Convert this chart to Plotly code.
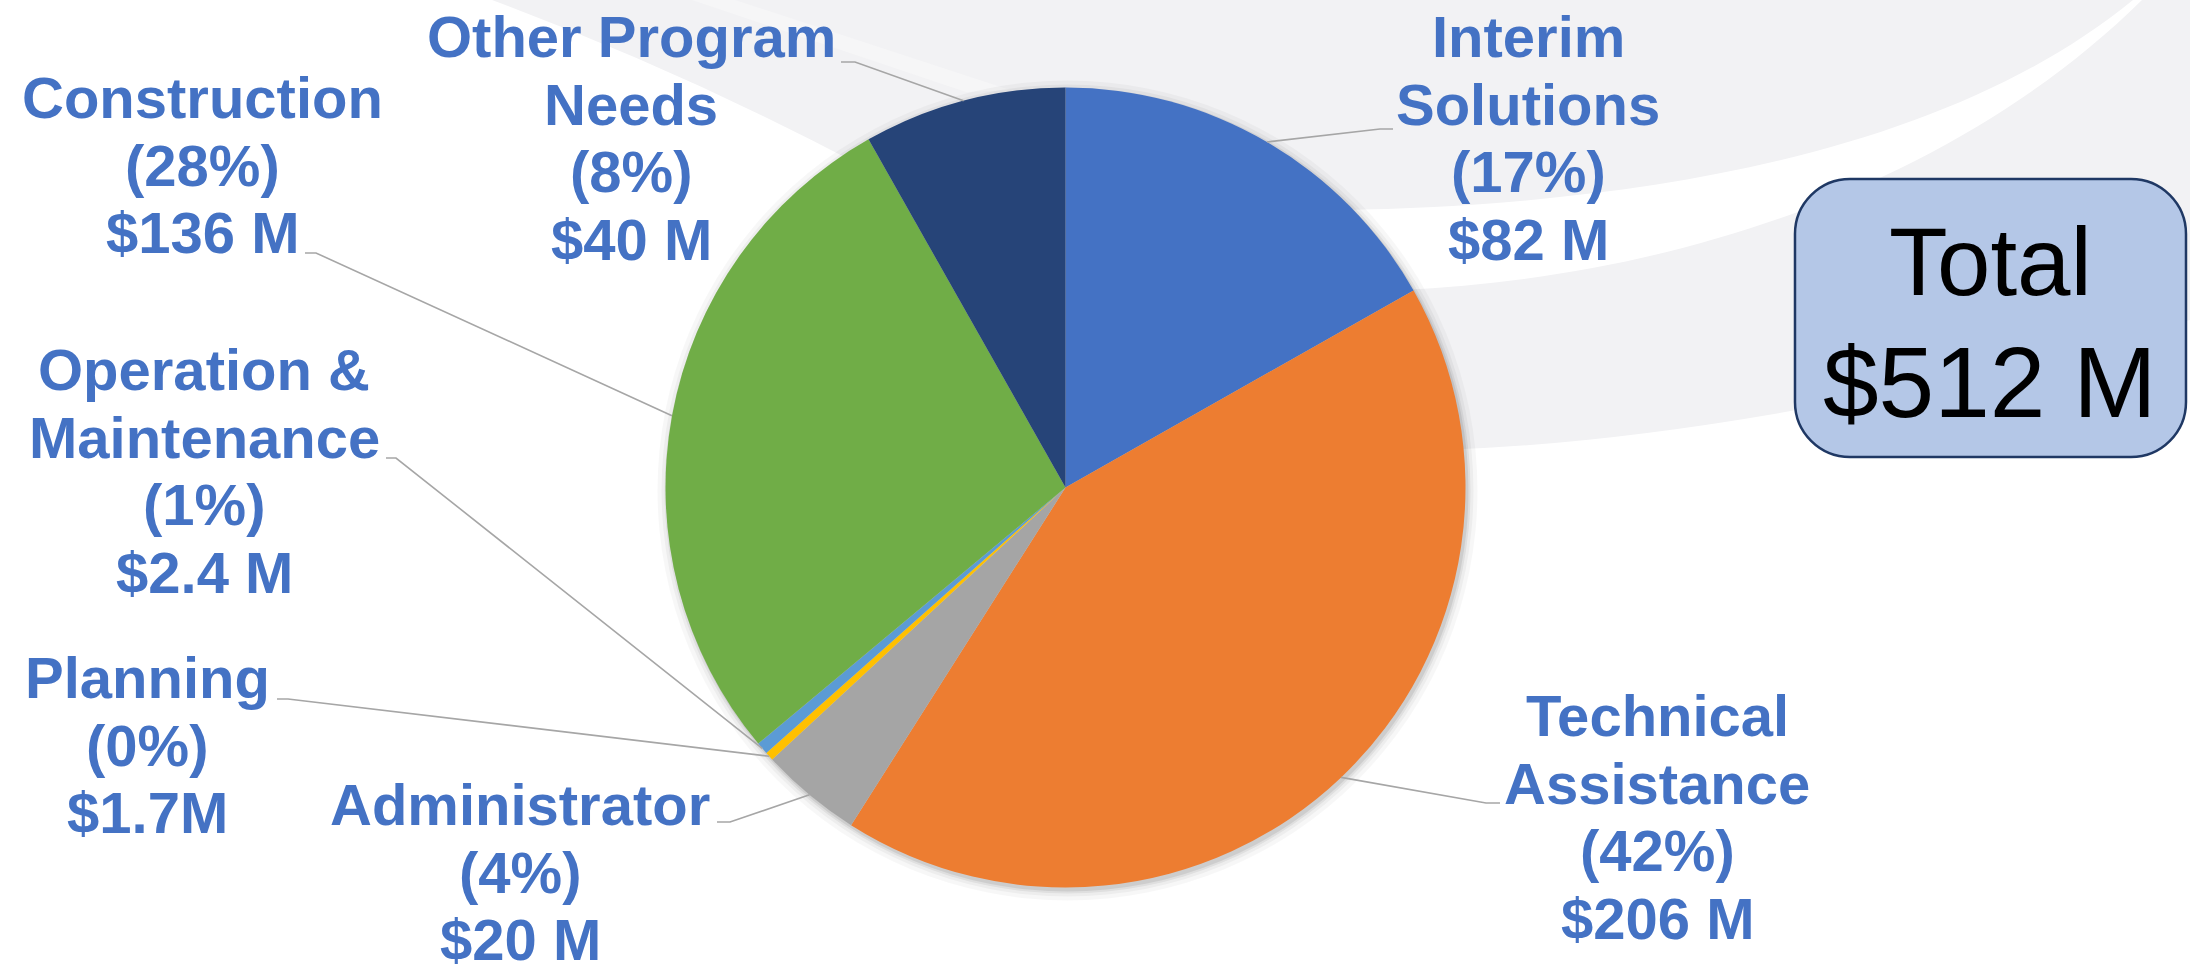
import math
import plotly.graph_objects as go

# ---------------- data ----------------
categories = ["Interim Solutions", "Technical Assistance", "Administrator", "Planning",
              "Operation & Maintenance", "Construction", "Other Program Needs"]
values_musd = [82, 206, 20, 1.7, 2.4, 136, 40]
pct_labels = ["(17%)", "(42%)", "(4%)", "(0%)", "(1%)", "(28%)", "(8%)"]
amount_labels = ["$82 M", "$206 M", "$20 M", "$1.7M", "$2.4 M", "$136 M", "$40 M"]
name_lines = [["Interim", "Solutions"], ["Technical", "Assistance"], ["Administrator"],
              ["Planning"], ["Operation &", "Maintenance"], ["Construction"],
              ["Other Program", "Needs"]]
slice_colors = ["#4472C4", "#ED7D31", "#A5A5A5", "#FFC000", "#5B9BD5", "#70AD47", "#264478"]
total_lines = ["Total", "$512 M"]

# ---------------- layout constants (pixels) ----------------
W, H = 2190, 973
CX, CY, R = 1065.5, 487.5, 400.0
FONT = "Liberation Sans, Arial, sans-serif"
LABEL_COLOR = "#4472C4"
LABEL_SIZE = 58
PITCH = 67.5

# label placement: center x, first baseline, elbow point, tail end
label_pos = [
    dict(cx=1528, b=57, elbow=(1380, 129), tail=(1393, 129)),
    dict(cx=1657, b=736, elbow=(1486, 803), tail=(1500, 803)),
    dict(cx=520, b=825, elbow=(730, 822), tail=(717, 822)),
    dict(cx=147, b=698, elbow=(288, 699), tail=(277, 699)),
    dict(cx=204, b=390, elbow=(396, 458), tail=(386, 458)),
    dict(cx=202, b=118, elbow=(316, 253), tail=(305, 253)),
    dict(cx=631, b=57, elbow=(855, 62), tail=(841, 62)),
]


def px(x):
    return x / W


def py(y):
    return 1 - y / H


def P(x, y):
    return f"{px(x):.5f},{py(y):.5f}"


shapes = []

# background swoosh
shapes.append(dict(type="path", layer="below", xref="paper", yref="paper",
                   path=f"M {P(492,0)} Q {P(680,70)} {P(860,165)} L {P(1066,487)} L {P(1440,450)} "
                        f"Q {P(1750,440)} {P(2190,320)} L {P(2190,0)} Z",
                   fillcolor="#F2F2F4", line=dict(width=0)))
shapes.append(dict(type="path", layer="below", xref="paper", yref="paper",
                   path=f"M {P(692,0)} L {P(735,0)} L {P(1010,90)} L {P(966,92)} Z",
                   fillcolor="#F6F6F7", line=dict(width=0)))
shapes.append(dict(type="path", layer="below", xref="paper", yref="paper",
                   path=f"M {P(1340,210)} C {P(1650,205)} {P(1950,150)} {P(2133,0)} L {P(2142,0)} "
                        f"C {P(1980,160)} {P(1720,275)} {P(1400,290)} Z",
                   fillcolor="#FFFFFF", line=dict(width=0)))

# soft shadow around the pie
for rr, op in [(410, 0.03), (406, 0.04), (403, 0.06), (401, 0.08)]:
    sx, sy = CX + 2, CY + 3
    shapes.append(dict(type="circle", layer="below", xref="paper", yref="paper",
                       x0=px(sx - rr), x1=px(sx + rr), y0=py(sy + rr), y1=py(sy - rr),
                       fillcolor=f"rgba(0,0,0,{op})", line=dict(width=0)))

# leader lines from slice mid-angle on the rim to the label
total = sum(values_musd)
cum = 0.0
for v, lp in zip(values_musd, label_pos):
    mid = (cum + v / 2) / total * 2 * math.pi
    cum += v
    ex, ey = CX + R * math.sin(mid), CY - R * math.cos(mid)
    (bx, by), (tx, ty) = lp["elbow"], lp["tail"]
    shapes.append(dict(type="path", layer="above", xref="paper", yref="paper",
                       path=f"M {P(ex,ey)} L {P(bx,by)} L {P(tx,ty)}",
                       line=dict(color="#A6A6A6", width=1.6)))

# total box (rounded rectangle)
bx0, by0, bx1, by1, rc = 1795, 179, 2186, 457, 55
k = 0.5523 * rc
box_path = (f"M {P(bx0+rc,by0)} L {P(bx1-rc,by0)} C {P(bx1-rc+k,by0)} {P(bx1,by0+rc-k)} {P(bx1,by0+rc)} "
            f"L {P(bx1,by1-rc)} C {P(bx1,by1-rc+k)} {P(bx1-rc+k,by1)} {P(bx1-rc,by1)} "
            f"L {P(bx0+rc,by1)} C {P(bx0+rc-k,by1)} {P(bx0,by1-rc+k)} {P(bx0,by1-rc)} "
            f"L {P(bx0,by0+rc)} C {P(bx0,by0+rc-k)} {P(bx0+rc-k,by0)} {P(bx0+rc,by0)} Z")
shapes.append(dict(type="path", layer="above", xref="paper", yref="paper", path=box_path,
                   fillcolor="#B4C7E7", line=dict(color="#1F3864", width=2.5)))

annotations = []


def add_line(text, cx, baseline, size, color, bold):
    annotations.append(dict(
        text=f"<b>{text}</b>" if bold else text,
        x=px(cx), y=py(baseline - 0.3465 * size), xref="paper", yref="paper",
        xanchor="center", yanchor="middle", showarrow=False,
        font=dict(family=FONT, size=size, color=color), borderpad=0))


for lines, pct, amt, lp in zip(name_lines, pct_labels, amount_labels, label_pos):
    for i, t in enumerate(lines + [pct, amt]):
        add_line(t, lp["cx"], lp["b"] + i * PITCH, LABEL_SIZE, LABEL_COLOR, True)

add_line(total_lines[0], 1990, 295, 96, "#000000", False)
add_line(total_lines[1], 1990, 417, 100, "#000000", False)

fig = go.Figure(go.Pie(
    labels=categories, values=values_musd, sort=False, direction="clockwise", rotation=0,
    marker=dict(colors=slice_colors, line=dict(width=0)),
    textinfo="none", hoverinfo="label+value", showlegend=False,
    domain=dict(x=[px(CX - R), px(CX + R)], y=[py(CY + R), py(CY - R)]),
))

fig.update_layout(
    width=W, height=H, margin=dict(l=0, r=0, t=0, b=0),
    paper_bgcolor="white", plot_bgcolor="white",
    shapes=shapes, annotations=annotations, showlegend=False,
)

fig.write_html("out.html", config={"displayModeBar": False},
               post_script="document.body.style.margin='0';document.body.style.overflow='hidden';")
